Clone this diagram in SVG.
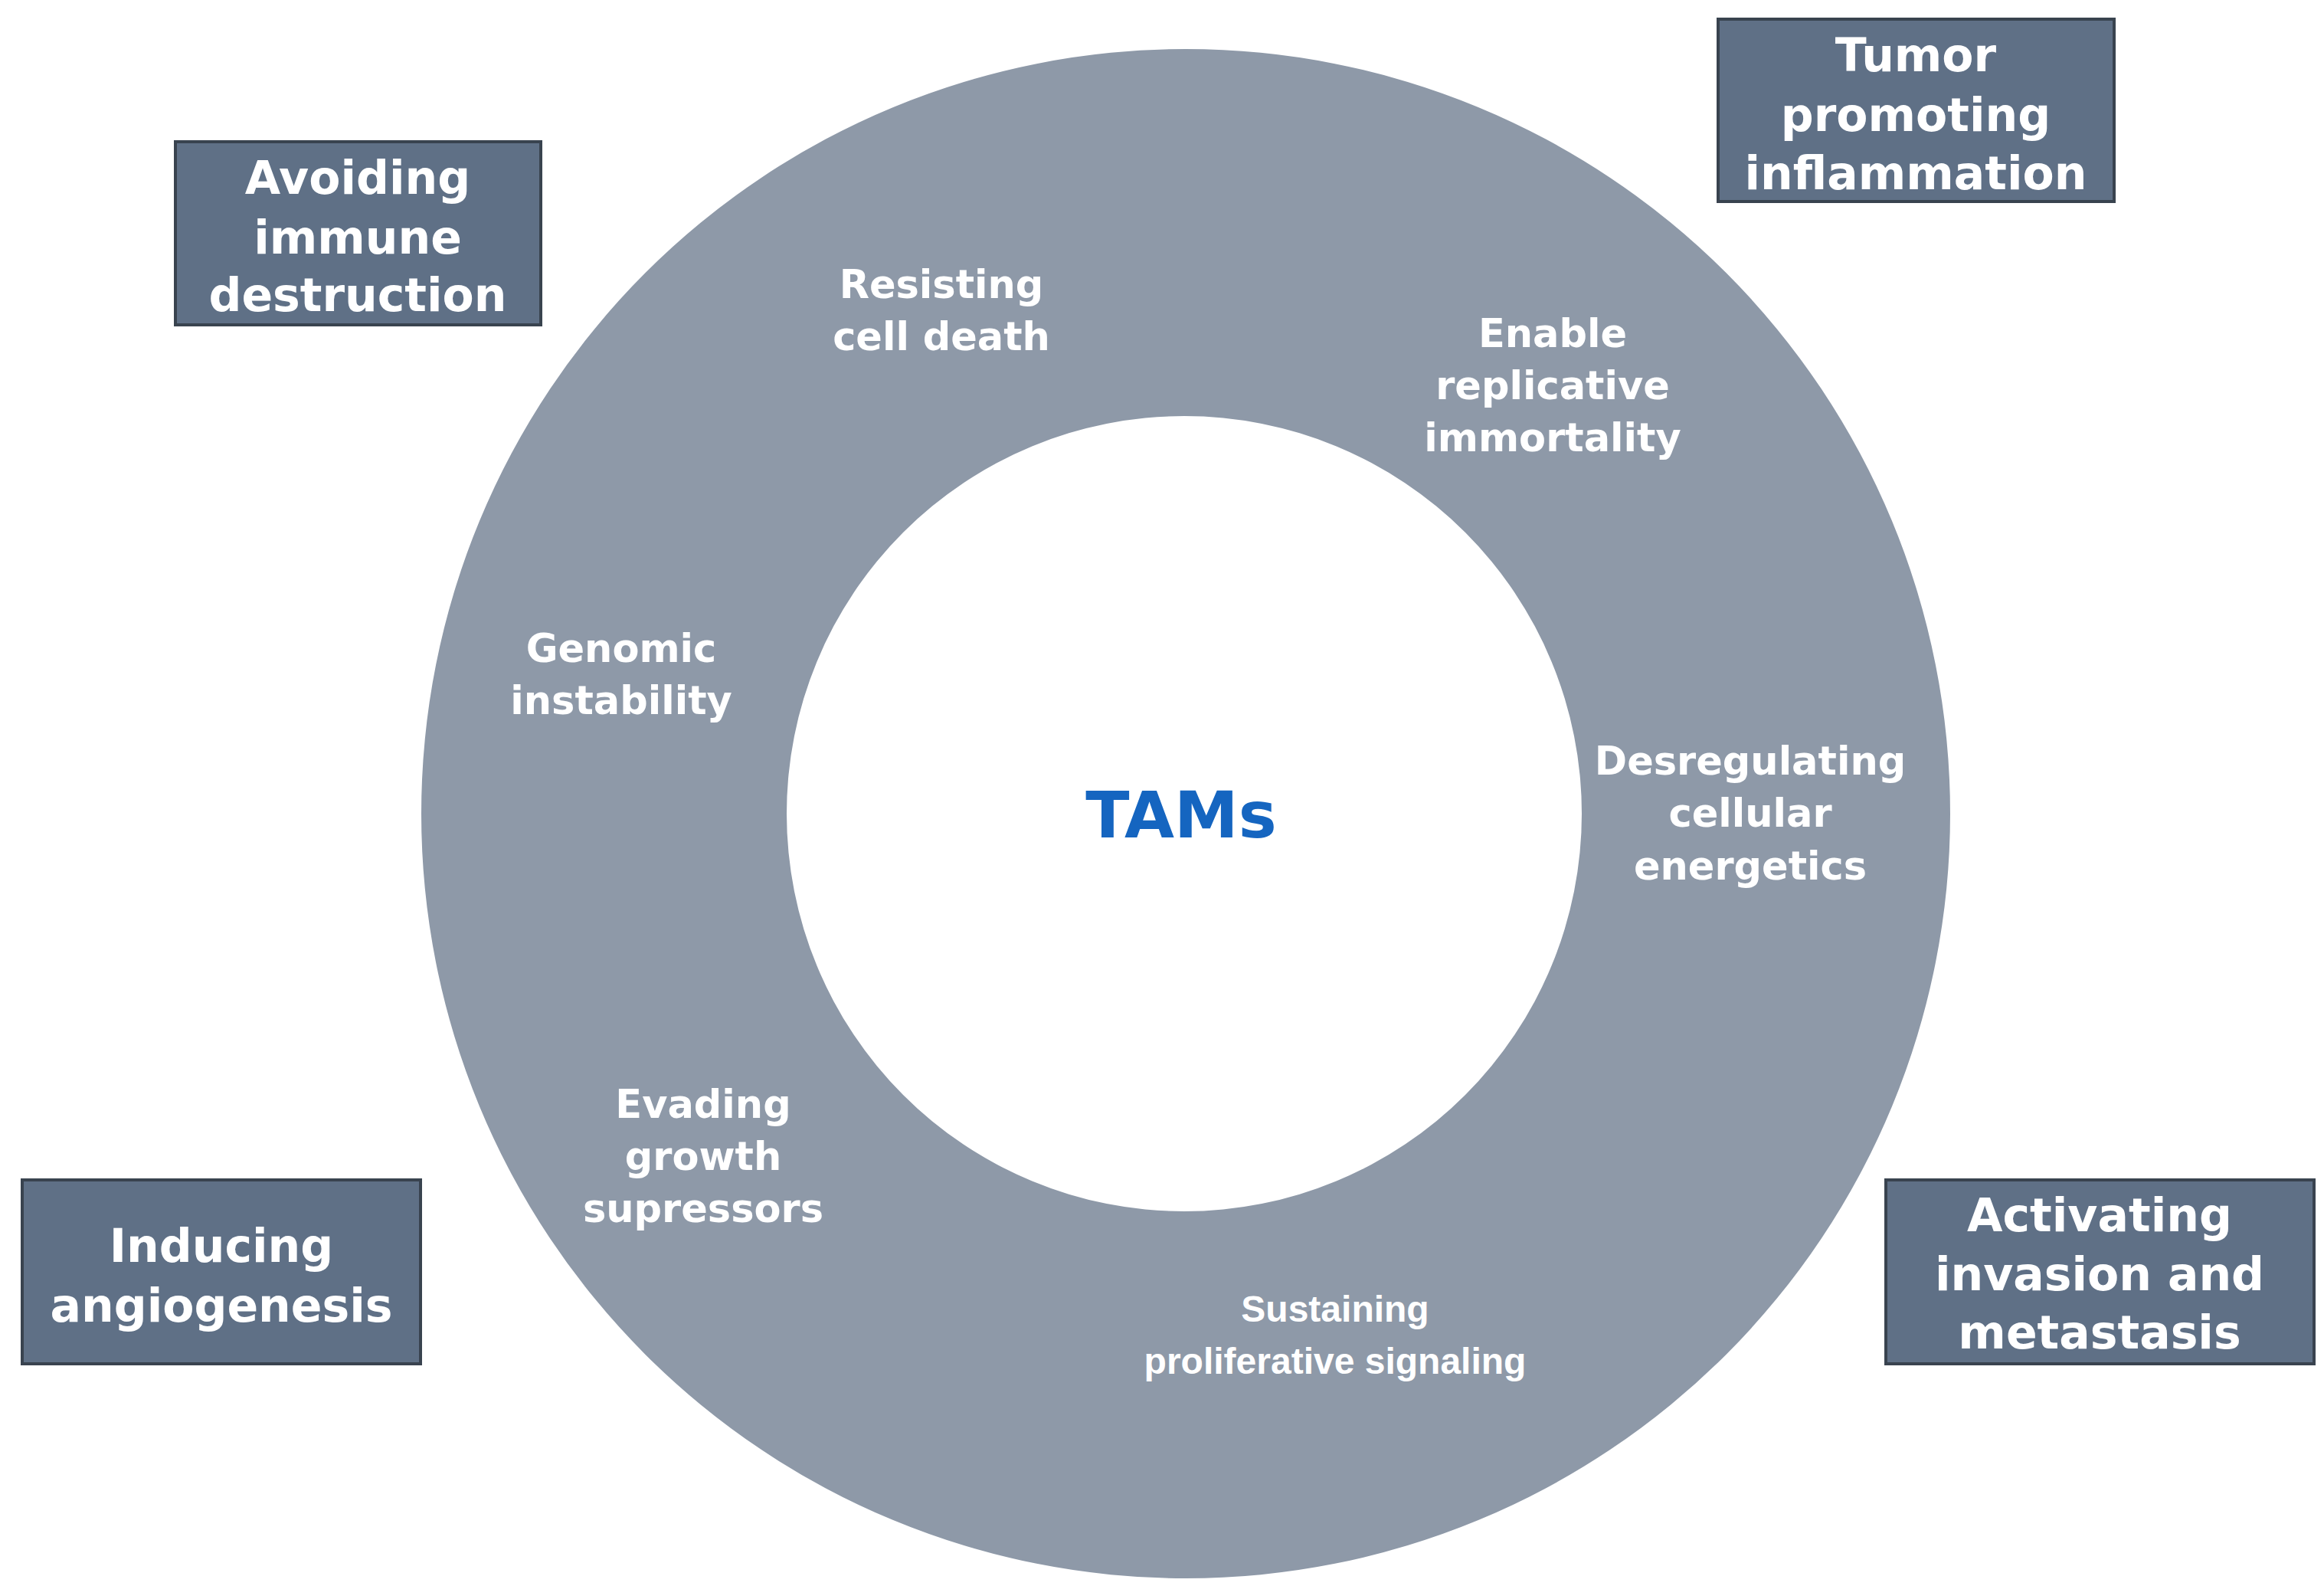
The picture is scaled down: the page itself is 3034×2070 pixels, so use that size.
<svg xmlns="http://www.w3.org/2000/svg" width="3034" height="2070" viewBox="0 0 3034 2070">
<style>
.box{fill:#5f7086;stroke:#39434f;stroke-width:4}
.bt{font-family:"DejaVu Sans",Verdana,sans-serif;font-weight:bold;font-size:60px;fill:#fff;text-anchor:middle}
.rt{font-family:"DejaVu Sans",Verdana,sans-serif;font-weight:bold;font-size:51px;fill:#fff;text-anchor:middle}
.st{font-family:"Liberation Sans",Arial,sans-serif;font-weight:bold;font-size:48px;fill:#fff;text-anchor:middle}
</style>
<rect width="3034" height="2070" fill="#fff"/>
<g id="ring">
<path d="M550,1062 a998,998 0 1,0 1996,0 a998,998 0 1,0 -1996,0 Z M1027,1062 a519,519 0 1,1 1038,0 a519,519 0 1,1 -1038,0 Z" fill="#8e99a8" fill-rule="evenodd"/>
<text class="rt" x="1229" y="389">Resisting</text><text class="rt" x="1229" y="457">cell death</text>
<text class="rt" x="2027" y="453">Enable</text><text class="rt" x="2027" y="521">replicative</text><text class="rt" x="2027" y="589">immortality</text>
<text class="rt" x="811" y="864">Genomic</text><text class="rt" x="811" y="932">instability</text>
<text class="rt" x="2285" y="1011">Desregulating</text><text class="rt" x="2285" y="1079">cellular</text><text class="rt" x="2285" y="1148">energetics</text>
<text class="rt" x="918" y="1459">Evading</text><text class="rt" x="918" y="1527">growth</text><text class="rt" x="918" y="1595">supressors</text>
<text class="st" x="1743" y="1725">Sustaining</text><text class="st" x="1743" y="1793">proliferative signaling</text>
</g>
<g id="tams"><text x="1542" y="1093" font-family="DejaVu Sans,Verdana,sans-serif" font-weight="bold" font-size="84" fill="#1565c0" text-anchor="middle">TAMs</text></g>
<g id="avoiding"><rect class="box" x="229" y="185" width="477" height="239"/>
<text class="bt" x="467" y="253">Avoiding</text><text class="bt" x="467" y="331">immune</text><text class="bt" x="467" y="406">destruction</text></g>
<g id="tumor"><rect class="box" x="2243" y="25" width="517" height="238"/>
<text class="bt" x="2501" y="93">Tumor</text><text class="bt" x="2501" y="171">promoting</text><text class="bt" x="2501" y="247">inflammation</text></g>
<g id="inducing"><rect class="box" x="29" y="1540" width="520" height="240"/>
<text class="bt" x="289" y="1647">Inducing</text><text class="bt" x="289" y="1725">angiogenesis</text></g>
<g id="activating"><rect class="box" x="2462" y="1540" width="559" height="240"/>
<text class="bt" x="2741" y="1607">Activating</text><text class="bt" x="2741" y="1684">invasion and</text><text class="bt" x="2741" y="1760">metastasis</text></g>
<g id="connectors"/>
</svg>
